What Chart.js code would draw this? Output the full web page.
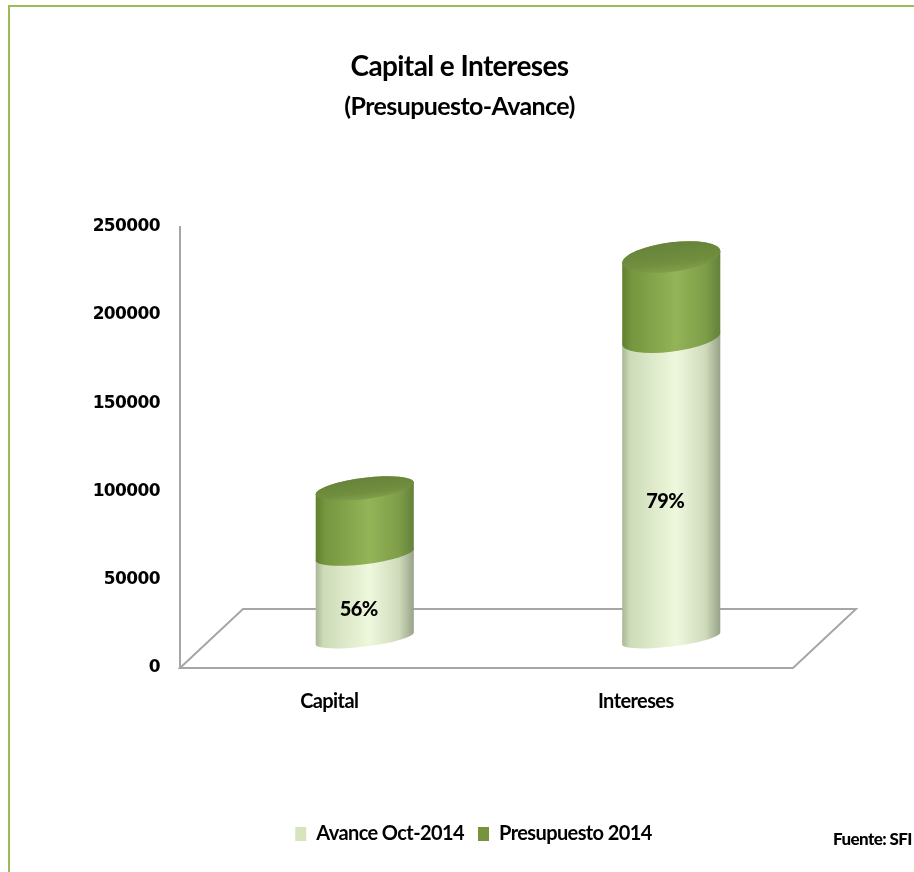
<!DOCTYPE html>
<html>
<head>
<meta charset="utf-8">
<title>Capital e Intereses</title>
<script src="https://cdn.jsdelivr.net/npm/chart.js@4.4.1/dist/chart.umd.min.js"></script>
<style>
  html, body { margin: 0; padding: 0; background: #fff; }
  canvas { display: block; }
</style>
</head>
<body>
<canvas id="myChart" width="914" height="872"></canvas>
<script>
// Datos: avance a octubre contra presupuesto 2014
var categorias = ['Capital', 'Intereses'];
var avance = [47500, 170000];        // Avance Oct-2014
var presupuesto = [37500, 46000];    // Presupuesto 2014 (parte apilada encima del avance)
var ticksY = [0, 50000, 100000, 150000, 200000, 250000];

var FUENTE = 'Lato, "Liberation Sans", sans-serif';
var DIGITOS = '"DejaVu Sans", sans-serif';
var ESPACIADO = '-0.6px';

// profundidad del piso en 3D y la inclinacion de las elipses
var FONDO_X = 63, FONDO_Y = 59;
var INCLINA = -0.12;
var LEYENDA_DX = 14;

var colorClaro = [[0, '#a9b798'], [0.08, '#cddbb7'], [0.55, '#eef8dd'], [0.85, '#cfdabb'], [1, '#97a288']];
var colorOscuro = [[0, '#61802e'], [0.1, '#76963f'], [0.55, '#93b457'], [0.85, '#7e9d48'], [1, '#64813a']];

function radioY(yBase, y) {
    return 8 + (yBase - y) * 0.018;
}

function cilindro(ctx, cx, yTop, yBot, yBase, rx, colores, tapa) {
    var ryT = radioY(yBase, yTop), ryB = radioY(yBase, yBot);
    ctx.save();
    ctx.translate(cx, 0);
    ctx.transform(1, INCLINA, 0, 1, 0, 0);

    var g = ctx.createLinearGradient(-rx, 0, rx, 0);
    colores.forEach(function (c) { g.addColorStop(c[0], c[1]); });
    ctx.beginPath();
    ctx.moveTo(-rx, yTop);
    ctx.lineTo(-rx, yBot);
    ctx.ellipse(0, yBot, rx, ryB, 0, Math.PI, 0, true);
    ctx.lineTo(rx, yTop);
    ctx.ellipse(0, yTop, rx, ryT, 0, 0, Math.PI, true);
    ctx.closePath();
    ctx.fillStyle = g;
    ctx.fill();

    if (tapa) {
        var gt = ctx.createLinearGradient(0, yTop - ryT, 0, yTop + ryT);
        gt.addColorStop(0, '#66833a');
        gt.addColorStop(0.7, '#718f3e');
        gt.addColorStop(1, '#809e4b');
        ctx.beginPath();
        ctx.ellipse(0, yTop, rx, ryT, 0, 0, Math.PI * 2);
        ctx.fillStyle = gt;
        ctx.fill();
    }
    ctx.restore();
}

var cilindros = {
    id: 'cilindros',
    beforeLayout: function (chart) {
        chart.ctx.letterSpacing = ESPACIADO;
    },
    afterLayout: function (chart) {
        // que no se recorten las etiquetas del eje y
        chart.scales.y.left = 0;
        // la leyenda va algo corrida a la derecha del titulo
        chart.legend.left += LEYENDA_DX;
        chart.legend.right += LEYENDA_DX;
    },
    beforeDraw: function (chart) {
        var ctx = chart.ctx;
        ctx.letterSpacing = ESPACIADO;
        ctx.save();
        ctx.fillStyle = '#9bbb59';
        ctx.fillRect(8, 5, 2, chart.height - 5);
        ctx.fillRect(8, 5, chart.width - 8, 2);
        ctx.restore();
    },
    beforeDatasetsDraw: function (chart) {
        var ctx = chart.ctx, area = chart.chartArea;
        var y0 = chart.scales.y.getPixelForValue(0);

        // piso
        ctx.save();
        ctx.strokeStyle = '#a6a6a6';
        ctx.lineWidth = 2;
        ctx.beginPath();
        ctx.moveTo(area.left, y0);
        ctx.lineTo(area.left + FONDO_X, y0 - FONDO_Y);
        ctx.lineTo(area.right + FONDO_X, y0 - FONDO_Y);
        ctx.lineTo(area.right, y0);
        ctx.closePath();
        ctx.stroke();
        ctx.restore();

        var dx = FONDO_X / 2, dy = FONDO_Y / 2;
        var ultimo = chart.data.datasets.length - 1;
        chart.data.datasets.forEach(function (ds, i) {
            var meta = chart.getDatasetMeta(i);
            meta.data.forEach(function (bar) {
                var p = bar.getProps(['x', 'y', 'base', 'width'], true);
                cilindro(ctx, p.x + dx, p.y - dy, p.base - dy, y0 - dy, p.width / 2,
                    i === 0 ? colorClaro : colorOscuro, i === ultimo);
            });
        });

        // porcentaje de avance sobre el presupuesto
        var meta0 = chart.getDatasetMeta(0);
        ctx.save();
        ctx.fillStyle = '#000';
        ctx.font = '900 20px ' + FUENTE;
        ctx.textAlign = 'center';
        ctx.textBaseline = 'middle';
        meta0.data.forEach(function (bar, j) {
            var p = bar.getProps(['x', 'y', 'base'], true);
            var pct = Math.round(avance[j] / (avance[j] + presupuesto[j]) * 100);
            ctx.fillText(pct + '%', p.x + dx - 6, (p.y + p.base) / 2 - dy + 13);
        });
        ctx.restore();
        return false;
    },
    afterDraw: function (chart) {
        var ctx = chart.ctx;
        ctx.save();
        ctx.fillStyle = '#000';
        ctx.font = '900 17px ' + FUENTE;
        ctx.textAlign = 'left';
        ctx.textBaseline = 'alphabetic';
        ctx.fillText('Fuente: SFI', 833, 845);
        ctx.restore();
    }
};

var ctx = document.getElementById('myChart').getContext('2d');
var myChart = new Chart(ctx, {
    type: 'bar',
    data: {
        labels: categorias,
        datasets: [{
            label: 'Avance Oct-2014',
            data: avance,
            backgroundColor: '#d7e4bd',
            borderWidth: 0,
            barPercentage: 0.32,
            categoryPercentage: 1
        }, {
            label: 'Presupuesto 2014',
            data: presupuesto,
            backgroundColor: '#77933c',
            borderWidth: 0,
            barPercentage: 0.32,
            categoryPercentage: 1
        }]
    },
    options: {
        responsive: false,
        animation: false,
        events: [],
        layout: { padding: { left: 126, right: 121, top: 0, bottom: 18 } },
        scales: {
            x: {
                stacked: true,
                grid: { display: false, drawTicks: false },
                border: { display: false },
                ticks: {
                    padding: 22,
                    labelOffset: -4,
                    color: '#000',
                    font: { family: FUENTE, size: 20, weight: 'bold' }
                },
                afterFit: function (s) { s.height = 142; }
            },
            y: {
                stacked: true,
                min: 0,
                max: 250000,
                afterBuildTicks: function (s) {
                    s.ticks = ticksY.map(function (v) { return { value: v }; });
                },
                grid: { display: false, drawTicks: false },
                border: { display: true, color: '#a6a6a6', width: 2 },
                ticks: {
                    padding: 20,
                    color: '#000',
                    font: { family: DIGITOS, size: 17, weight: 'bold' },
                    callback: function (v) { return String(v); }
                },
                afterFit: function (s) { s.width = 54; }
            }
        },
        plugins: {
            title: {
                display: true,
                text: 'Capital e Intereses',
                color: '#000',
                font: { family: FUENTE, size: 28, weight: 'bold', lineHeight: 1.2 },
                padding: { top: 50, bottom: 0 }
            },
            subtitle: {
                display: true,
                text: '(Presupuesto-Avance)',
                color: '#000',
                font: { family: FUENTE, size: 25, weight: 'bold', lineHeight: 1.2 },
                padding: { top: 8, bottom: 105 }
            },
            legend: {
                position: 'bottom',
                labels: {
                    boxWidth: 11,
                    boxHeight: 14,
                    padding: 14,
                    color: '#000',
                    font: { family: FUENTE, size: 20, weight: 'bold' }
                }
            },
            tooltip: { enabled: false }
        }
    },
    plugins: [cilindros]
});
</script>
</body>
</html>
